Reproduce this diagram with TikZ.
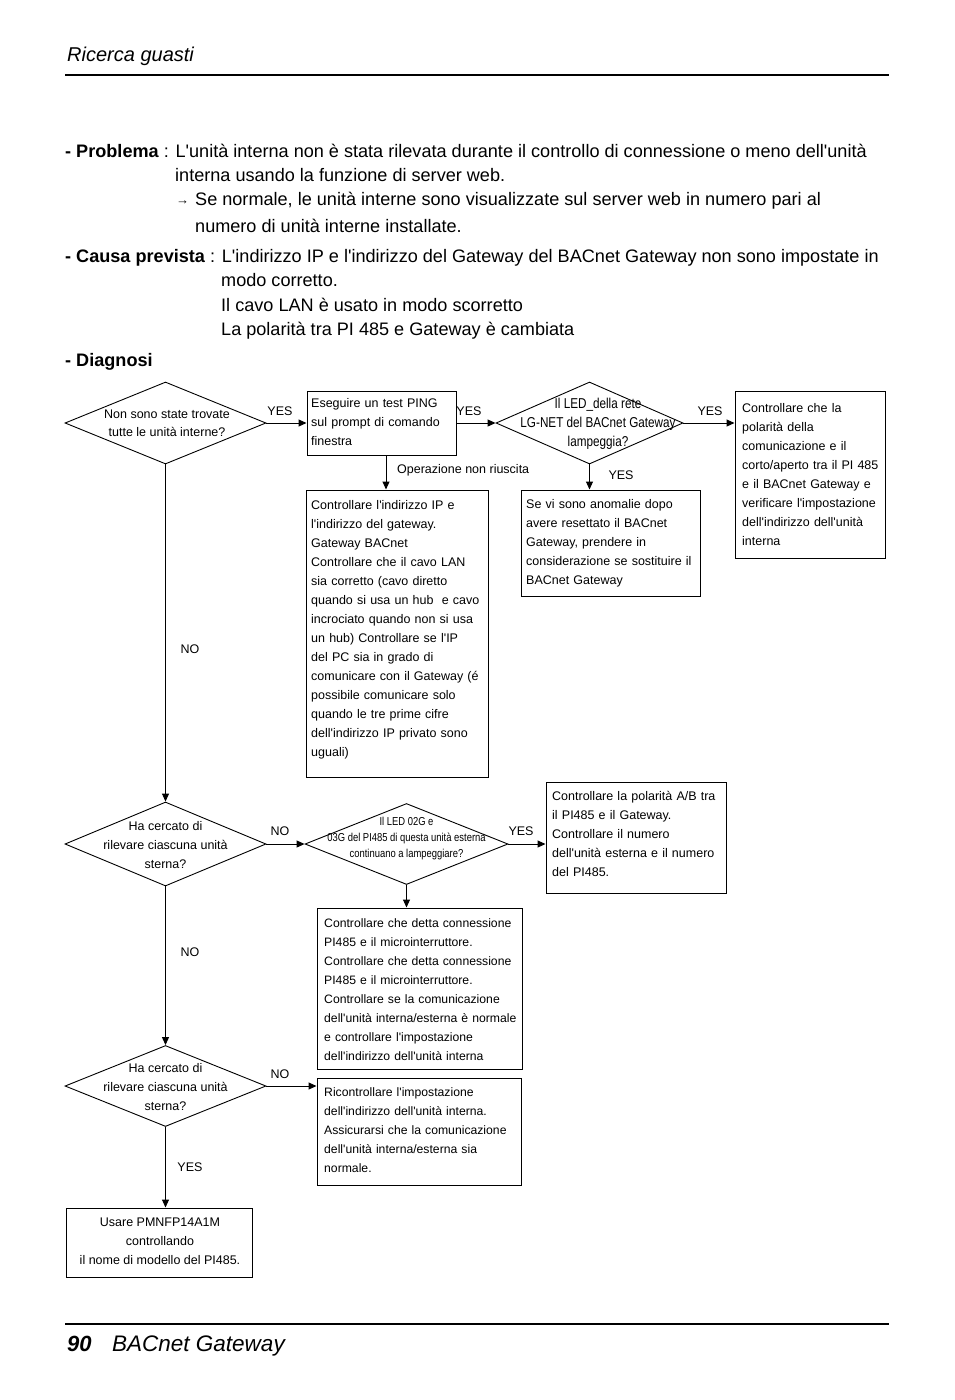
\documentclass[tikz,border=0pt]{standalone}
\usepackage{fontspec}
\newfontfamily\lib{Liberation Sans}
\newfontfamily\libn[FakeStretch=0.82]{Liberation Sans}
\usetikzlibrary{shapes.geometric,arrows.meta,calc}
\begin{document}
\begin{tikzpicture}[x=1pt,y=-1pt,
  box/.style={draw, line width=1pt, inner sep=0pt, rectangle},
  dia/.style={draw, diamond, line width=0.9pt, inner sep=0pt},
  arr/.style={line width=1pt, -{Triangle[length=8pt,width=7pt]}},
  btxt/.style={font=\lib\fontsize{12.5}{19}\selectfont, align=left, text width=215pt, inner sep=0pt, anchor=base west},
  dtxt/.style={font=\lib\fontsize{12.5}{19}\selectfont, align=center, inner sep=0pt},
  lab/.style={font=\lib\fontsize{12.5}{15}\selectfont, inner sep=0pt},
  body/.style={font=\lib\fontsize{18.1}{24}\selectfont, inner sep=0pt, anchor=base west}]
\useasboundingbox (0,0) rectangle (954,1400);
\fill[white] (0,0) rectangle (954,1400);

% header / footer
\node[font=\lib\itshape\fontsize{20}{22}\selectfont, inner sep=0pt, anchor=base west] (hdr) at (67,61) {Ricerca guasti};
\coordinate (hl) at (65,75); \coordinate (hr) at (889,75);
\draw[line width=2pt] (hl) -- (hr);
\coordinate (fl) at (65,1324); \coordinate (fr) at (889,1324);
\draw[line width=2pt] (fl) -- (fr);
\node[font=\lib\itshape\bfseries\fontsize{22}{24}\selectfont, inner sep=0pt, anchor=base west] (pg) at (67,1351) {90};
\node[font=\lib\itshape\fontsize{22.5}{24}\selectfont, inner sep=0pt, anchor=base west] (ftr) at (112,1351) {BACnet Gateway};

% body text
\node[body] (p1) at (65,157.5) {\textbf{- Problema} : L'unità interna non è stata rilevata durante il controllo di connessione o meno dell'unità};
\node[body] (p2) at (175,181.5) {interna usando la funzione di server web.};
\node[font=\lib\fontsize{13}{14}\selectfont, inner sep=0pt, anchor=base west] (p3a) at (176,204.5) {→};
\node[body] (p3) at (195,205.5) {Se normale, le unità interne sono visualizzate sul server web in numero pari al};
\node[body] (p4) at (195,232.5) {numero di unità interne installate.};
\node[body] (c1) at (65,262.5) {\textbf{- Causa prevista} : L'indirizzo IP e l'indirizzo del Gateway del BACnet Gateway non sono impostate in};
\node[body] (c2) at (221,286.5) {modo corretto.};
\node[body] (c3) at (221,311.5) {Il cavo LAN è usato in modo scorretto};
\node[body] (c4) at (221,335.5) {La polarità tra PI 485 e Gateway è cambiata};
\node[body] (dg) at (65,366.5) {\textbf{- Diagnosi}};

% diamonds
\node[dia, minimum width=201pt, minimum height=82pt] (d1) at (165.5,423) {};
\node[dia, minimum width=187pt, minimum height=82pt] (d2) at (589.5,423) {};
\node[dia, minimum width=201pt, minimum height=84pt] (d3) at (165.5,844) {};
\node[dia, minimum width=203pt, minimum height=81pt] (d4) at (406.5,844) {};
\node[dia, minimum width=201pt, minimum height=81pt] (d5) at (165.5,1086) {};

\node[dtxt, font=\lib\fontsize{12.5}{18}\selectfont] (d1t) at (167,423) {Non sono state trovate\\tutte le unità interne?};
\node[dtxt, font=\libn\fontsize{14.3}{19}\selectfont] (d2t) at (598,424) {Il LED\_della rete\\LG-NET del BACnet Gateway\\lampeggia?};
\node[dtxt] (d3t) at (165.5,845) {Ha cercato di\\rilevare ciascuna unità\\sterna?};
\node[dtxt, font=\libn\fontsize{11.5}{16}\selectfont] (d4t) at (406.5,839) {Il LED 02G e\\03G del PI485 di questa unità esterna\\continuano a lampeggiare?};
\node[dtxt] (d5t) at (165.5,1087) {Ha cercato di\\rilevare ciascuna unità\\sterna?};

% boxes
\node[box, minimum width=149pt, minimum height=64pt] (b1) at (381.5,423) {};
\node[box, minimum width=182pt, minimum height=287pt] (b2) at (397,633.5) {};
\node[box, minimum width=150pt, minimum height=167pt] (b3) at (810,474.5) {};
\node[box, minimum width=179pt, minimum height=106pt] (b4) at (610.5,543) {};
\node[box, minimum width=180pt, minimum height=111pt] (b5) at (636,837.5) {};
\node[box, minimum width=205pt, minimum height=161pt] (b6) at (419.5,988.5) {};
\node[box, minimum width=204pt, minimum height=107pt] (b7) at (419,1131.5) {};
\node[box, minimum width=186pt, minimum height=69pt] (b8) at (159,1242.5) {};

\node[btxt] (b1t) at (311,407.5) {Eseguire un test PING\\sul prompt di comando\\finestra};
\node[btxt] (b2t) at (311,509.5) {Controllare l'indirizzo IP e\\l'indirizzo del gateway.\\Gateway BACnet\\Controllare che il cavo LAN\\sia corretto (cavo diretto\\quando si usa un hub\ \ e cavo\\incrociato quando non si usa\\un hub) Controllare se l'IP\\del PC sia in grado di\\comunicare con il Gateway (é\\possibile comunicare solo\\quando le tre prime cifre\\dell'indirizzo IP privato sono\\uguali)};
\node[btxt] (b3t) at (742,412.5) {Controllare che la\\polarità della\\comunicazione e il\\corto/aperto tra il PI 485\\e il BACnet Gateway e\\verificare l'impostazione\\dell'indirizzo dell'unità\\interna};
\node[btxt] (b4t) at (526,508.5) {Se vi sono anomalie dopo\\avere resettato il BACnet\\Gateway, prendere in\\considerazione se sostituire il\\BACnet Gateway};
\node[btxt] (b5t) at (552,800.5) {Controllare la polarità A/B tra\\il PI485 e il Gateway.\\Controllare il numero\\dell'unità esterna e il numero\\del PI485.};
\node[btxt, font=\lib\fontsize{12.2}{19}\selectfont] (b6t) at (324,927.5) {Controllare che detta connessione\\PI485 e il microinterruttore.\\Controllare che detta connessione\\PI485 e il microinterruttore.\\Controllare se la comunicazione\\dell'unità interna/esterna è normale\\e controllare l'impostazione\\dell'indirizzo dell'unità interna};
\node[btxt, font=\lib\fontsize{12.2}{19}\selectfont] (b7t) at (324,1096.5) {Ricontrollare l'impostazione\\dell'indirizzo dell'unità interna.\\Assicurarsi che la comunicazione\\dell'unità interna/esterna sia\\normale.};
\node[dtxt] (b8t) at (160,1241) {Usare PMNFP14A1M\\controllando\\il nome di modello del PI485.};

% connectors
\draw[arr] (d1.east) -- (b1.west);
\draw[arr] (b1.east) -- (d2.west);
\draw[arr] (d2.east) -- (d2.east -| b3.west);
\draw[arr] (d2.south) -- (d2.south |- b4.north);
\draw[arr] ([xshift=4.5pt]b1.south) -- ([xshift=4.5pt]b1.south |- b2.north);
\draw[arr] (d1.south) -- (d3.north);
\draw[arr] (d3.east) -- (d4.west);
\draw[arr] (d4.east) -- (d4.east -| b5.west);
\draw[arr] (d4.south) -- (d4.south |- b6.north);
\draw[arr] (d3.south) -- (d5.north);
\draw[arr] (d5.east) -- (d5.east -| b7.west);
\draw[arr] (d5.south) -- (d5.south |- b8.north);

% labels
\node[lab] (l1) at (280,411) {YES};
\node[lab] (l2) at (469,411) {YES};
\node[lab] (l3) at (710,411) {YES};
\node[lab] (l4) at (621,475) {YES};
\node[lab, anchor=west] (l5) at (397,470) {Operazione non riuscita};
\node[lab] (l6) at (190,649) {NO};
\node[lab] (l7) at (280,831) {NO};
\node[lab] (l8) at (521,831) {YES};
\node[lab] (l9) at (190,952) {NO};
\node[lab] (l10) at (280,1074) {NO};
\node[lab] (l11) at (190,1167) {YES};
\end{tikzpicture}
\end{document}
